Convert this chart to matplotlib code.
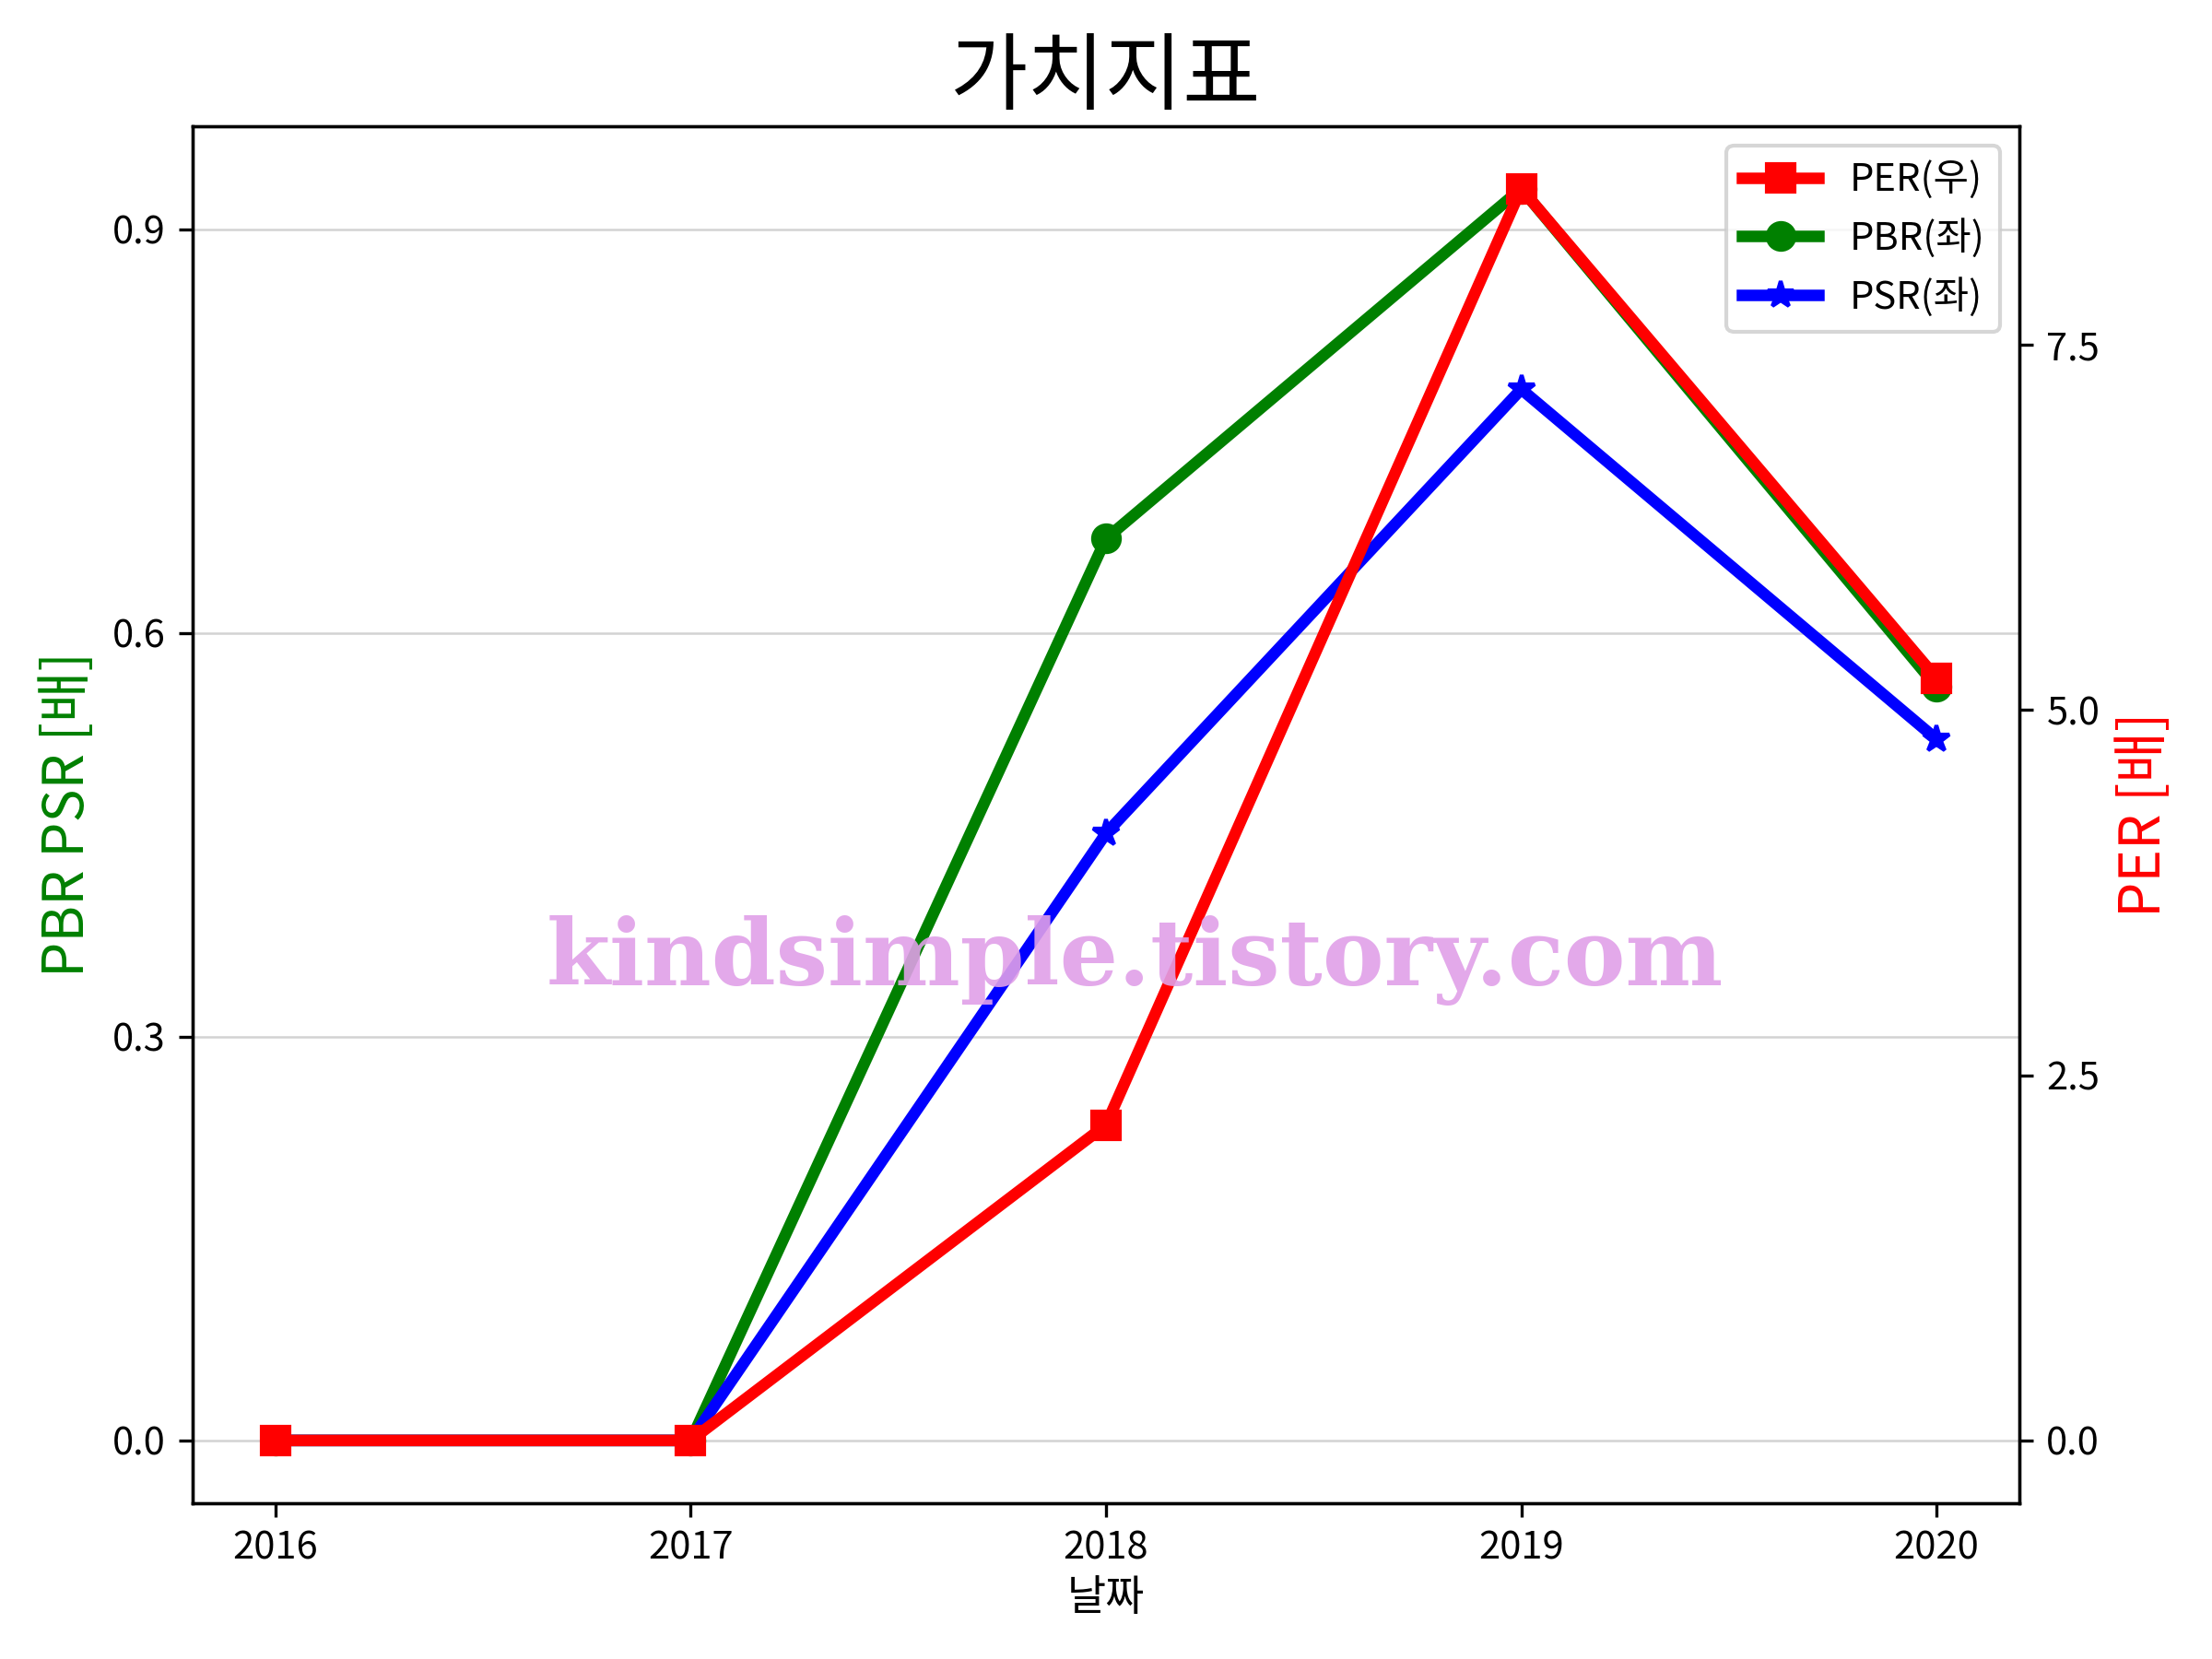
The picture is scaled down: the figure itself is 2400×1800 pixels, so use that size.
import matplotlib
matplotlib.use("Agg")
import matplotlib.pyplot as plt

plt.rcParams['font.family'] = ['Noto Sans CJK KR', 'DejaVu Sans']
plt.rcParams['axes.unicode_minus'] = False

years = ['2016', '2017', '2018', '2019', '2020']
per = [0.0, 0.0, 2.16, 8.57, 5.22]
pbr = [0.0, 0.0, 0.670, 0.930, 0.560]
psr = [0.0, 0.0, 0.451, 0.781, 0.521]

fig, ax1 = plt.subplots(figsize=(8, 6), dpi=300)
ax2 = ax1.twinx()

l2, = ax1.plot(years, pbr, color='green', marker='o', lw=3, ms=7, label='PBR(좌)')
l3, = ax1.plot(years, psr, color='blue', marker='*', lw=3, ms=7, label='PSR(좌)')
l1, = ax2.plot(years, per, color='red', marker='s', lw=3, ms=7, label='PER(우)')

ax1.set_yticks([0.0, 0.3, 0.6, 0.9])
ax2.set_yticks([0.0, 2.5, 5.0, 7.5])
ax1.grid(axis='y', color='lightgray', lw=0.6)

ax1.set_xlabel('날짜', fontsize=11, labelpad=2)
ax1.set_ylabel('PBR PSR [배]', color='green', fontsize=14.5)
ax2.set_ylabel('PER [배]', color='red', fontsize=14.5)
ax1.set_title('가치지표', fontsize=22)

ax2.legend(handles=[l1, l2, l3], loc='upper right', fontsize=10)

fig.text(0.513, 0.421, 'kindsimple.tistory.com', fontsize=24, fontweight='bold',
         family='DejaVu Serif', color='#e0a0e8', alpha=0.9, ha='center', va='center',
         zorder=10)

fig.subplots_adjust(left=0.087, right=0.913, top=0.924, bottom=0.094)
fig.savefig('out.png')
